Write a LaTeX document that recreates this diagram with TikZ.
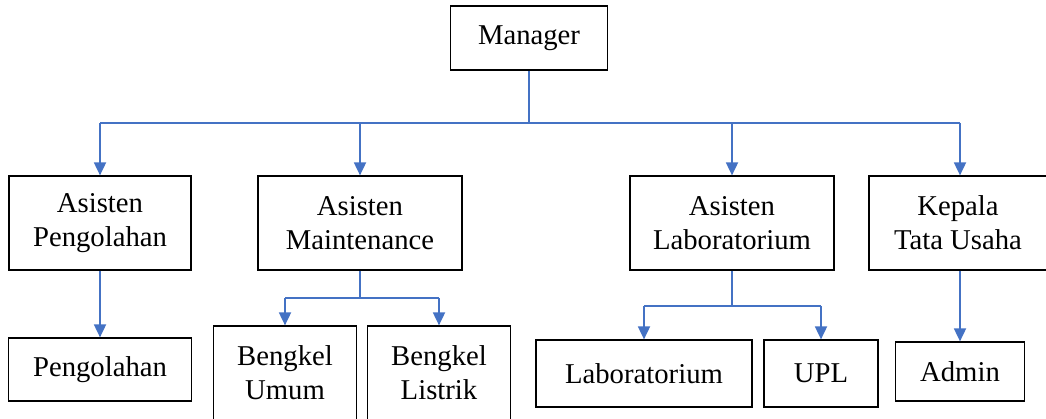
\documentclass[tikz,border=0pt]{standalone}
\usepackage{fontspec}
\setmainfont{Liberation Serif}
\usetikzlibrary{arrows.meta}
\definecolor{linkblue}{RGB}{68,114,196}
\tikzset{>={Triangle[length=13pt,width=12pt]}}
\tikzset{
  box/.style={draw=black, line width=1.2pt, inner sep=0pt, align=center,
    font=\fontsize{28.7}{34}\selectfont},
  link/.style={draw=linkblue, line width=1.8pt},
}

\begin{document}
\begin{tikzpicture}[x=1pt,y=-1pt]
    \clip (0,0) rectangle (1046,419);
    % top and second row
    \node[box, minimum width=157pt, minimum height=64pt] (manager) at (529,38) {Manager};
    \node[box, minimum width=182pt, minimum height=94pt] (astPengolahan) at (100,223) {Asisten\\Pengolahan};
    \node[box, minimum width=204pt, minimum height=94pt] (astMaintenance) at (360,223) {Asisten\\Maintenance};
    \node[box, minimum width=204pt, minimum height=94pt] (astLab) at (732,223) {Asisten\\Laboratorium};
    \node[box, minimum width=178pt, minimum height=94pt] (kepala) at (958,223) {Kepala\\Tata Usaha};
    % third row
    \node[box, minimum width=183pt, minimum height=63pt] (pengolahan) at (100,369.5) {Pengolahan};
    \node[box, minimum width=143pt, minimum height=94pt] (bengkelUmum) at (285,373) {Bengkel\\Umum};
    \node[box, minimum width=143pt, minimum height=94pt] (bengkelListrik) at (439,373) {Bengkel\\Listrik};
    \node[box, minimum width=216pt, minimum height=67pt] (laboratorium) at (644,373.5) {Laboratorium};
    \node[box, minimum width=114pt, minimum height=67pt] (upl) at (821,373.5) {UPL};
    \node[box, minimum width=129pt, minimum height=59pt] (admin) at (960,371.5) {Admin};
    %\draw[red] (0,0) rectangle (1046,419);
    \coordinate (busTop) at (529,123);
    \coordinate (busMaint) at (360,298);
    \coordinate (busLab) at (732,306);
    \draw[link] (manager.south) -- (busTop);
    \draw[link] (astPengolahan.north |- busTop) -- (admin.north |- busTop);
    \foreach \n in {astPengolahan, astMaintenance, astLab}
        \draw[link, ->] (\n.north |- busTop) -- (\n.north);
    \draw[link, ->] (admin.north |- busTop) -- (admin.north |- kepala.north);
    \draw[link, ->] (astPengolahan.south) -- (pengolahan.north);
    \draw[link] (astMaintenance.south) -- (busMaint);
    \draw[link] (bengkelUmum.north |- busMaint) -- (bengkelListrik.north |- busMaint);
    \foreach \n in {bengkelUmum, bengkelListrik}
        \draw[link, ->] (\n.north |- busMaint) -- (\n.north);
    \draw[link] (astLab.south) -- (busLab);
    \draw[link] (laboratorium.north |- busLab) -- (upl.north |- busLab);
    \foreach \n in {laboratorium, upl}
        \draw[link, ->] (\n.north |- busLab) -- (\n.north);
    \draw[link, ->] (kepala.south -| admin.north) -- (admin.north);
\end{tikzpicture}
\end{document}
